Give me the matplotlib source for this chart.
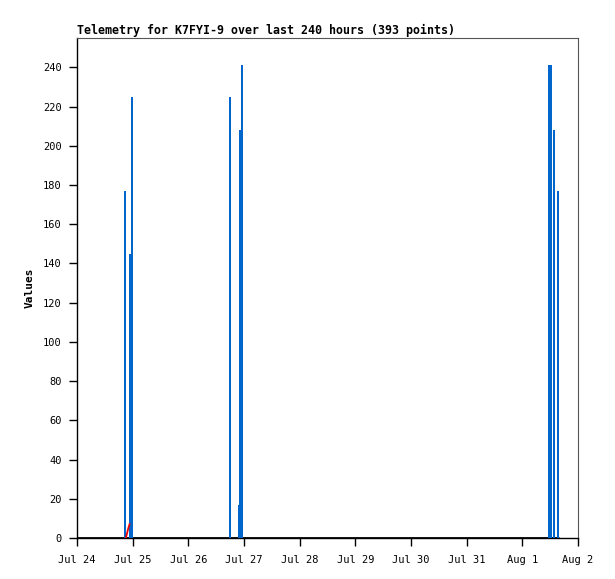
from matplotlib import pyplot as plt
import pandas as pd

# Telemetry samples
bar_times = ['2023-07-24 20:37', '2023-07-24 23:00', '2023-07-24 23:40',
             '2023-07-26 18:01', '2023-07-26 21:55', '2023-07-26 22:29',
             '2023-07-26 23:12', '2023-08-01 11:22', '2023-08-01 12:24',
             '2023-08-01 13:38', '2023-08-01 15:21']
bar_values = [177, 145, 225, 225, 17, 208, 241, 241, 241, 208, 177]

red_times = ['2023-07-24 21:04', '2023-07-24 21:42', '2023-07-24 22:08', '2023-07-24 22:39']
red_values = [0, 3, 5, 7]

zero_times = ['2023-07-22 15:20', '2023-08-01 15:40']
zero_values = [0, 0]

tick_days = pd.date_range('2023-07-24', '2023-08-02', freq='D')
tick_labels = ['Jul 24', 'Jul 25', 'Jul 26', 'Jul 27', 'Jul 28', 'Jul 29',
               'Jul 30', 'Jul 31', 'Aug 1', 'Aug 2']
y_ticks = list(range(0, 241, 20))

title = 'Telemetry for K7FYI-9 over last 240 hours (393 points)'

mono = 'DejaVu Sans Mono'

fig = plt.figure(figsize=(6.15, 5.79), dpi=100)
ax = fig.add_axes([77 / 615, 41 / 579, 501 / 615, 500 / 579])

ax.plot(pd.to_datetime(zero_times), zero_values, color='black', linewidth=2,
        solid_capstyle='butt', zorder=2)
ax.bar(pd.to_datetime(bar_times), bar_values, width=0.04, color='#0066cc',
       linewidth=0, zorder=3)
ax.plot(pd.to_datetime(red_times), red_values, color='#ee0000', linewidth=1.3, zorder=4)

ax.set_xlim(tick_days[0], tick_days[-1])
ax.set_ylim(0, 255)
ax.set_xticks(tick_days)
ax.set_xticklabels(tick_labels, family=mono, fontsize=7.5)
ax.set_yticks(y_ticks)
ax.set_yticklabels([str(v) for v in y_ticks], family=mono, fontsize=7.5)
ax.tick_params(direction='out', length=6, width=1, color='black')
ax.tick_params(axis='x', pad=6)
ax.tick_params(axis='y', pad=5)

for side in ['top', 'right']:
    ax.spines[side].set_color('#555555')
    ax.spines[side].set_linewidth(0.8)
for side in ['left', 'bottom']:
    ax.spines[side].set_color('black')
    ax.spines[side].set_linewidth(1)

ax.set_ylabel('Values', family=mono, fontweight='bold', fontsize=8, labelpad=6)
ax.set_title(title, loc='left', family=mono, fontweight='bold', fontsize=8.4, pad=3)

plt.savefig('out.png', dpi=100)
